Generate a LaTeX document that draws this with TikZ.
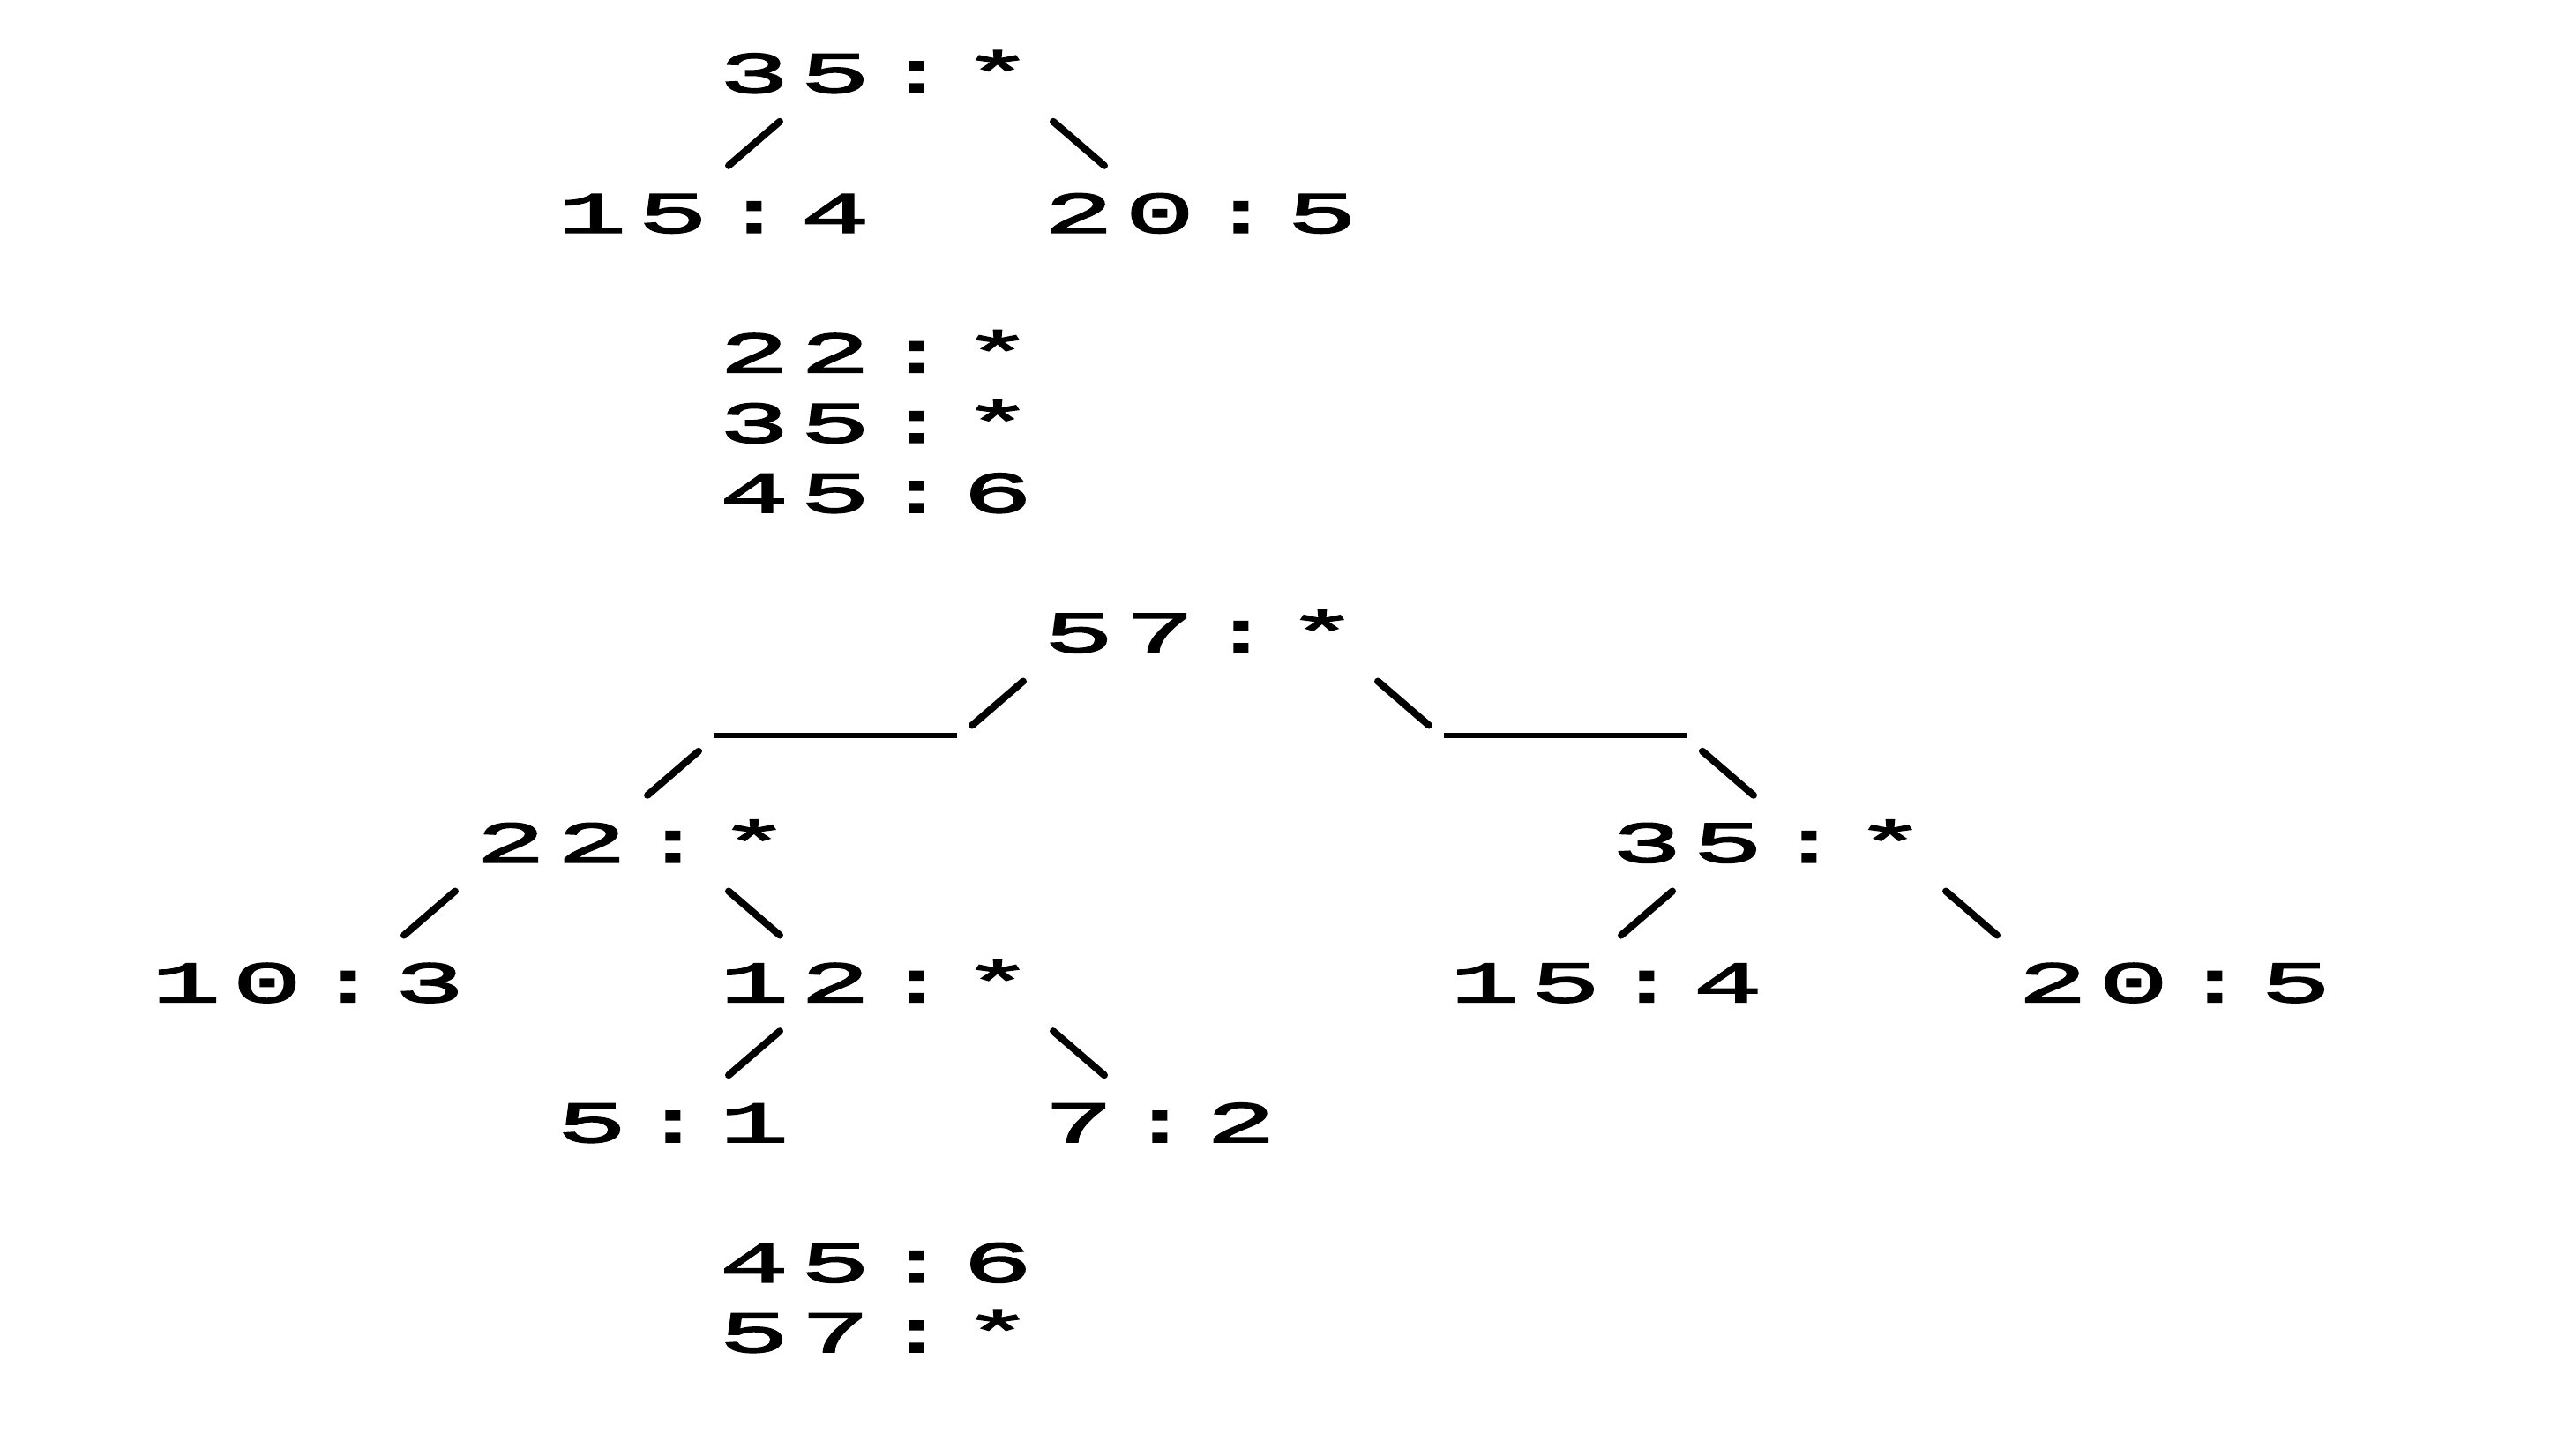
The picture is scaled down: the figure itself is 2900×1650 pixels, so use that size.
\documentclass[tikz,border=0pt]{standalone}
\usepackage{fontspec}
\newfontfamily\labfont[FakeStretch=2.0,FakeBold=2.8]{Liberation Mono}
\makeatletter
\newlength\cellw
\setlength\cellw{23pt}
\newcommand\monolab[1]{\@tfor\mych:=#1\do{\makebox[\cellw][c]{\mych}}}
\makeatother
\begin{document}
\begin{tikzpicture}[x=0.25pt,y=-0.25pt,
  lab/.style={anchor=base west,inner sep=0pt,outer sep=0pt,font=\fontsize{16.5}{16}\labfont},
  edge/.style={line width=2pt,line cap=round,black},
  bar/.style={line width=1.5pt,black}]
\useasboundingbox (0,0) rectangle (2900,1650);
% ---- first tree
\node[lab] (a35) at (809,105) {\monolab{35:*}};
\node[lab] (a15) at (625,263.7) {\monolab{15:4}};
\node[lab] (a20) at (1177,263.7) {\monolab{20:5}};
\draw[edge] (826,187.8) -- (884,137.8);
\draw[edge] (1194,137.8) -- (1252,187.8);
% ---- list
\node[lab] (l22) at (809,422.3) {\monolab{22:*}};
\node[lab] (l35) at (809,501.7) {\monolab{35:*}};
\node[lab] (l45) at (809,581) {\monolab{45:6}};
% ---- second tree
\node[lab] (b57) at (1177,739.6) {\monolab{57:*}};
\draw[edge] (1102,822.5) -- (1160,772.5);
\draw[bar] (809,834) -- (1085,834);
\draw[edge] (734,901.8) -- (792,851.8);
\draw[edge] (1562,772.5) -- (1620,822.5);
\draw[bar] (1637,834) -- (1913,834);
\draw[edge] (1930,851.8) -- (1988,901.8);
\node[lab] (b22) at (533,977.6) {\monolab{22:*}};
\node[lab] (b35) at (1821,977.6) {\monolab{35:*}};
\draw[edge] (458,1060.5) -- (516,1010.5);
\draw[edge] (826,1010.5) -- (884,1060.5);
\draw[edge] (1838,1060.5) -- (1896,1010.5);
\draw[edge] (2206,1010.5) -- (2264,1060.5);
\node[lab] (b10) at (165,1136.3) {\monolab{10:3}};
\node[lab] (b12) at (809,1136.3) {\monolab{12:*}};
\node[lab] (b15) at (1637,1136.3) {\monolab{15:4}};
\node[lab] (b20) at (2281,1136.3) {\monolab{20:5}};
\draw[edge] (826,1219.2) -- (884,1169.2);
\draw[edge] (1194,1169.2) -- (1252,1219.2);
\node[lab] (b5) at (625,1295) {\monolab{5:1}};
\node[lab] (b7) at (1177,1295) {\monolab{7:2}};
% ---- list
\node[lab] (m45) at (809,1453.6) {\monolab{45:6}};
\node[lab] (m57) at (809,1533) {\monolab{57:*}};
\end{tikzpicture}
\end{document}
